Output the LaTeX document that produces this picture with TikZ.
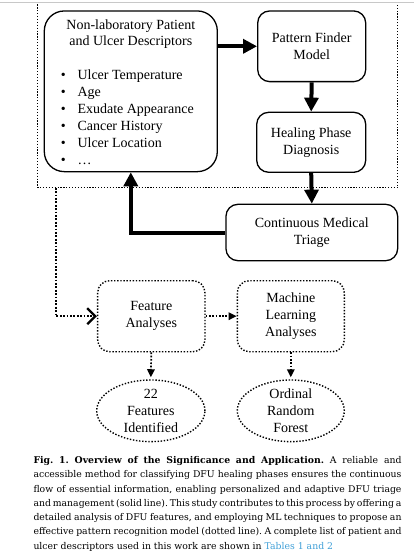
\documentclass[tikz,border=0pt]{standalone}
\usepackage{fontspec}
\setmainfont{Liberation Serif}
\newfontfamily\capfont{DejaVu Serif}
\usetikzlibrary{arrows.meta,shapes.geometric}
\definecolor{linkblue}{RGB}{64,160,216}
\definecolor{rulegray}{RGB}{200,200,200}
\newcommand\mycapsetup{\capfont\fontsize{9.3}{14}\selectfont\frenchspacing\spaceskip=0.318em plus 0.4em minus 0.14em\relax}
\newcommand\myline[1]{\makebox[368pt][s]{#1}}
\begin{document}
\begin{tikzpicture}[x=1pt,y=-1pt,
  txt/.style={inner sep=0, font=\fontsize{14}{16.8}\selectfont},
  solidbox/.style={draw, line width=1.3pt, rounded corners=12pt, align=center, inner sep=0, font=\fontsize{14}{16.8}\selectfont},
  dotpat/.style={line width=1.4pt, dash pattern=on 1.4pt off 1.7pt},
  dotbox/.style={draw, dotpat, rounded corners=12pt, align=center, inner sep=0, font=\fontsize{14}{16.8}\selectfont},
  dotell/.style={ellipse, draw, dotpat, align=center, inner sep=0, font=\fontsize{14}{16.8}\selectfont},
  bigarrow/.style={line width=4pt, -{Triangle[length=14pt,width=14pt]}},
  dotarrow/.style={line width=1.7pt, dash pattern=on 1.7pt off 1.6pt, -{Triangle[length=8pt,width=7.5pt]}},
  capline/.style={anchor=base west, inner sep=0, font=\mycapsetup},
]
\useasboundingbox (0,0) rectangle (414,559);
\fill[white] (0,0) rectangle (414,559);
\draw[rulegray, line width=0.9pt] (0,2.7) -- (414,2.7);

% outer dotted frame (top is outside the picture)
\draw[line width=1.2pt, dash pattern=on 1.2pt off 1.7pt] (37.7,4.5) -- (37.7,187.7) -- (397.7,187.7) -- (397.7,4.5);
\coordinate (frameout) at (55.7,187.7);

% solid boxes
\node[solidbox, rounded corners=20pt, minimum width=173pt, minimum height=160.7pt] (desc) at (130.8,91.3) {};
\node[txt, anchor=base] (dt1) at (130.8,29.3) {Non-laboratory Patient};
\node[txt, anchor=base] (dt2) at (130.8,45.9) {and Ulcer Descriptors};
\foreach \t [count=\i] in {Ulcer Temperature, Age, Exudate Appearance, Cancer History, Ulcer Location, …} {
  \node[txt, anchor=base] (bul\i) at (63.3,{80+16.9*(\i-1)}) {•};
  \node[txt, anchor=base west] (it\i) at (77.3,{80+16.9*(\i-1)}) {\t};
}
\node[solidbox, minimum width=108pt, minimum height=70.7pt] (pfm) at (311.7,46.3) {Pattern Finder\\Model};
\node[solidbox, minimum width=109pt, minimum height=60pt] (hpd) at (311.2,142.3) {Healing Phase\\Diagnosis};
\node[solidbox, minimum width=171.7pt, minimum height=56.4pt] (cmt) at (311.8,232.5) {Continuous Medical\\Triage};

% dotted boxes
\node[dotbox, minimum width=107.3pt, minimum height=71pt] (fa) at (151.3,316.2) {Feature\\Analyses};
\node[dotbox, minimum width=107pt, minimum height=71pt] (ml) at (290.8,316.2) {Machine\\Learning\\Analyses};
\node[dotell, minimum width=108.3pt, minimum height=61.7pt] (e1) at (150.8,410.8) {22\\Features\\Identified};
\node[dotell, minimum width=107pt, minimum height=61.7pt] (e2) at (290.8,410.8) {Ordinal\\Random\\Forest};

% solid arrows
\draw[bigarrow] (desc.east |- pfm.west) -- (pfm.west);
\draw[bigarrow] (pfm.south) -- (hpd.north);
\draw[bigarrow] (hpd.south) -- (cmt.north);
\draw[bigarrow] (cmt.west) -| (desc.south);

% dotted arrows
\draw[line width=1.8pt, dash pattern=on 1.8pt off 1.6pt, -{Straight Barb[length=8pt,width=16pt,line width=2.4pt]}] (frameout) |- (fa.west);
\draw[dotarrow] (fa.east) -- (ml.west);
\draw[dotarrow, shorten >=2pt] (fa.south) -- (e1.north);
\draw[dotarrow, shorten >=2pt] (ml.south) -- (e2.north);

% caption
\node[capline] (cap1) at (33.3,463.5) {\myline{\textbf{Fig. 1. Overview of the Significance and Application.} A reliable and}};
\node[capline] (cap2) at (33.3,477.75) {\myline{accessible method for classifying DFU healing phases ensures the continuous}};
\node[capline] (cap3) at (33.3,492) {\myline{flow of essential information, enabling personalized and adaptive DFU triage}};
\node[capline] (cap4) at (33.3,506.25) {\myline{and management (solid line). This study contributes to this process by offering a}};
\node[capline] (cap5) at (33.3,520.5) {\myline{detailed analysis of DFU features, and employing ML techniques to propose an}};
\node[capline] (cap6) at (33.3,534.75) {\myline{effective pattern recognition model (dotted line). A complete list of patient and}};
\node[capline] (cap7) at (33.3,549) {ulcer descriptors used in this work are shown in {\color{linkblue}Tables 1 and 2}};
\end{tikzpicture}
\end{document}
